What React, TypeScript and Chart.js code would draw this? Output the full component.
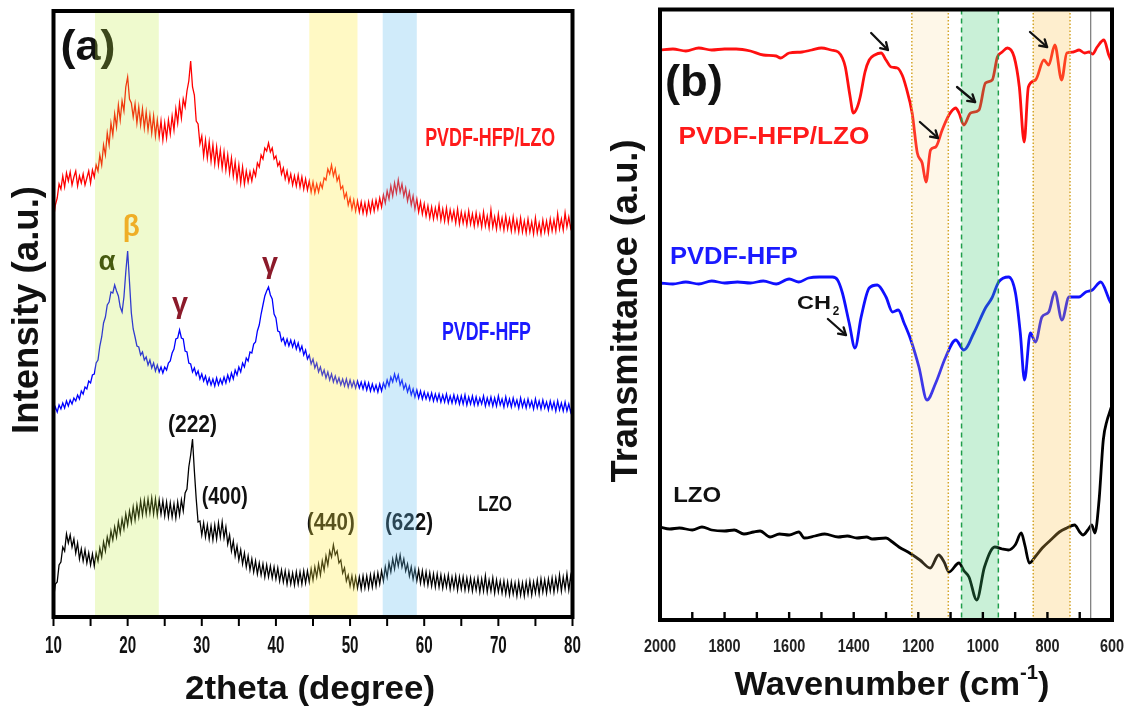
import React, { useEffect, useRef } from "react";
import { Chart, registerables } from "chart.js";
Chart.register(...registerables);

const FONT = "'Liberation Sans', Arial, sans-serif";

// ---------- (a) XRD data : 2theta from 10 to 80, step 0.25 ----------
const THETA_START = 10;
const THETA_STEP = 0.25;
const XRD_COMPOSITE = [
  398,412,419,433,428,441,430,444, 436,445,432,440,446,431,441,434,
  443,432,439,446,434,447,440,452, 446,462,452,472,462,484,472,494,
  482,503,490,512,497,516,506,530, 540,518,514,500,513,494,510,492,
  508,489,505,487,502,484,501,481, 497,480,496,477,494,479,497,483,
  501,487,508,494,514,499,518,510, 526,536,556,530,522,496,493,473,
  481,461,477,459,475,456,472,453, 470,452,467,449,465,447,462,444,
  459,441,455,437,452,434,450,433, 446,435,445,436,447,441,454,450,
  462,458,469,466,474,465,469,458, 461,451,455,443,449,438,446,435,
  443,432,441,431,442,430,440,428, 438,427,436,425,435,424,433,425,
  434,429,439,437,448,443,452,441, 448,436,441,428,431,419,424,412,
  419,408,417,406,416,405,415,404, 414,403,415,405,416,406,417,408,
  419,410,422,414,426,418,431,421, 434,424,437,425,433,421,429,416,
  425,412,421,408,418,405,415,403, 413,401,411,399,410,398,409,399,
  412,397,408,396,409,395,407,397, 406,394,408,393,405,394,404,392,
  406,393,403,391,404,392,402,390, 405,391,401,389,407,390,400,388,
  403,389,399,387,401,388,398,386, 400,386,397,385,399,385,396,384,
  398,385,395,383,399,384,394,383, 397,385,396,384,398,386,397,386,
  403,388,398,387,404,390,400,389, 396,
];
const XRD_PVDF = [
  204,210,205,212,208,214,209,216, 211,217,213,219,216,222,218,226,
  223,230,228,236,234,242,243,254, 257,271,280,294,300,312,315,325,
  324,332,326,321,310,305,320,345, 366,335,304,288,280,271,270,262,
  265,257,260,252,257,249,254,246, 252,245,250,244,250,247,254,256,
  264,268,278,279,287,279,278,266, 265,254,253,245,249,242,246,238,
  243,236,241,233,239,232,238,231, 239,232,238,233,240,234,242,236,
  244,238,247,242,250,245,254,250, 259,256,265,264,273,275,286,292,
  303,312,321,326,330,322,318,303, 299,286,285,276,279,272,278,271,
  277,270,276,268,274,266,271,262, 267,258,262,253,258,249,254,245,
  250,242,247,239,245,237,243,235, 241,234,239,232,238,231,238,230,
  237,230,236,229,236,229,235,228, 235,227,234,226,233,226,232,225,
  233,226,234,229,237,231,240,235, 243,236,242,232,237,228,233,225,
  231,222,228,220,227,219,226,218, 225,218,224,217,224,216,223,216,
  223,215,222,215,223,214,221,214, 222,214,221,213,221,213,222,212,
  220,213,221,212,220,212,219,213, 221,211,219,212,220,211,219,211,
  221,212,218,210,220,211,218,210, 219,211,217,209,219,210,217,209,
  218,210,216,208,218,209,216,208, 217,209,215,207,216,208,215,206,
  216,207,214,206,215,206,213,205, 212,
];
const XRD_LZO = [
  18,33,35,52,55,70,66,83, 74,82,70,78,64,74,58,68,
  56,67,54,64,52,63,51,64, 56,69,60,75,66,80,72,86,
  77,90,80,95,84,98,88,103, 92,106,95,110,97,112,100,116,
  102,117,103,118,104,119,103,118, 102,117,103,116,101,115,100,114,
  100,113,99,115,102,117,106,124, 128,150,162,178,146,118,95,96,
  82,94,80,92,78,91,77,92, 78,94,80,95,79,90,73,82,
  66,76,61,71,57,67,53,64, 50,61,47,58,45,56,43,54,
  42,53,40,52,40,51,39,50, 38,49,36,47,35,46,33,45,
  33,44,32,45,33,45,33,46, 34,46,35,48,37,50,40,53,
  42,56,47,61,52,66,60,72, 62,66,54,57,44,49,36,42,
  31,41,29,40,29,40,28,41, 29,41,29,42,30,43,31,44,
  33,46,36,50,40,54,45,58, 48,61,51,62,50,58,46,53,
  41,50,38,48,36,47,34,46, 33,45,32,44,31,43,30,43,
  30,42,29,41,30,42,28,40, 29,41,27,40,28,40,27,39,
  27,39,26,38,27,39,25,38, 26,41,25,37,26,39,24,37,
  25,36,24,36,23,35,22,35, 23,34,21,35,22,34,21,35,
  23,36,22,35,24,37,23,38, 25,37,24,38,26,39,25,39,
  27,42,26,40,28,43,27,41, 30,
];
const XRD_TICKS = [10, 20, 30, 40, 50, 60, 70, 80];
const XRD_MINOR_TICKS = [10, 15, 20, 25, 30, 35, 40, 45, 50, 55, 60, 65, 70, 75, 80];
const XRD_BANDS = [
  { from: 15.6, to: 24.2, color: "rgba(190,235,60,0.25)" },
  { from: 44.5, to: 51.0, color: "rgba(255,235,60,0.30)" },
  { from: 54.4, to: 59.0, color: "rgba(100,190,240,0.30)" },
];
const XRD_LABELS = [
  { text: "(a)", at: [14.65, 569], size: 42, width: 55, color: "#111" },
  { text: "PVDF-HFP/LZO", at: [68.9, 478], size: 25, width: 130, color: "#ff1a1a" },
  { text: "PVDF-HFP", at: [68.4, 284], size: 25, width: 89, color: "#1a1aff" },
  { text: "LZO", at: [69.55, 112], size: 22, width: 34, color: "#111" },
  { text: "(222)", at: [28.75, 192], size: 24, width: 49, color: "#111" },
  { text: "(400)", at: [33.1, 120], size: 24, width: 46, color: "#111" },
  { text: "(440)", at: [47.4, 94], size: 24, width: 48, color: "#111" },
  { text: "(622)", at: [57.95, 94], size: 24, width: 48, color: "#111" },
  { text: "α", at: [17.2, 355], size: 28, width: 17, color: "#1e2a00" },
  { text: "β", at: [20.5, 389], size: 30, width: 17, color: "#ff9a20" },
  { text: "γ", at: [27.05, 312], size: 30, width: 16, color: "#8b1a2a" },
  { text: "γ", at: [39.2, 352], size: 30, width: 16, color: "#8b1a2a" },
];

// ---------- (b) FTIR data ----------
const FTIR_WN_COMPOSITE = [2000,1960,1920,1880,1840,1800,1764,1720,1680,1640,1627,1600,1560,1530,1500,1470,1448,1435,1426,1412,1401,1390,1380,1365,1352,1335,1315,1300,1284,1265,1250,1238,1219,1203,1188,1176,1162,1146,1126,1105,1084,1074,1059,1038,1012,992,971,955,940,924,903,887,872,859,837,811,796,777,756,740,720,702,685,671,660,646,625,610,600];
const FTIR_COMPOSITE = [570,571,569,572,570,571,571,569,565,564,562,567,568,570,572,570,568,562,553,525,507,512,523,548,560,565,567,560,553,552,545,533,507,467,457,438,470,473,490,505,512,507,495,507,510,537,540,563,568,572,563,533,478,533,540,560,555,575,540,567,568,570,567,568,566,573,580,565,558];
const FTIR_WN_PVDF = [2000,1960,1920,1880,1840,1800,1760,1720,1680,1640,1600,1570,1540,1506,1466,1450,1435,1414,1396,1377,1352,1327,1300,1280,1262,1244,1223,1198,1173,1146,1115,1084,1059,1028,992,972,951,920,899,884,871,853,837,817,796,777,755,733,702,681,661,635,608,600];
const FTIR_PVDF = [337,336,338,336,339,337,338,337,339,336,341,338,342,343,343,340,327,297,272,303,332,335,323,308,310,297,280,253,220,237,263,280,270,287,312,322,338,343,327,287,240,287,278,303,308,328,300,323,323,328,330,338,320,315];
const FTIR_WN_LZO = [2000,1970,1940,1900,1870,1840,1800,1770,1740,1710,1690,1659,1630,1600,1570,1553,1520,1490,1448,1420,1390,1360,1343,1300,1280,1260,1227,1195,1163,1137,1120,1105,1074,1058,1043,1019,995,963,940,921,900,881,870,856,836,816,790,763,740,716,700,690,675,663,653,640,627,615,608,600];
const FTIR_LZO = [93,91,92,90,93,90,89,90,86,88,89,83,86,85,88,82,84,86,83,84,82,83,81,82,78,73,67,60,52,65,58,48,57,49,43,20,53,73,71,70,75,87,75,57,64,72,80,88,92,95,88,85,90,95,87,120,180,200,207,215];
const FTIR_TICKS = [2000, 1800, 1600, 1400, 1200, 1000, 800, 600];
const FTIR_MINOR_TICKS = [2000,1900,1800,1700,1600,1500,1400,1300,1200,1100,1000,900,800,700,600];
const FTIR_BANDS = [
  { from: 1220, to: 1107, color: "rgba(250,215,140,0.20)", border: "#d4a52a", dash: [1.5, 2] },
  { from: 1066, to: 952, color: "rgba(60,200,110,0.28)", border: "#1e9e4a", dash: [5, 4] },
  { from: 844, to: 730, color: "rgba(250,195,80,0.28)", border: "#d4a52a", dash: [1.5, 2] },
];
const FTIR_REF_LINE = 666;
const FTIR_LABELS = [
  { text: "(b)", at: [1894.7, 536], size: 44, width: 58, color: "#111" },
  { text: "PVDF-HFP/LZO", at: [1647, 483], size: 24, width: 191, color: "#ff1a1a" },
  { text: "PVDF-HFP", at: [1771, 363], size: 24, width: 128, color: "#1a1aff" },
  { text: "LZO", at: [1885, 124], size: 22, width: 48, color: "#111" },
];
const FTIR_ARROWS = [
  [1346, 587, 1294, 570],
  [1195, 498, 1139, 482],
  [1080, 533, 1024, 518],
  [854, 588, 801, 573],
  [1480, 301, 1424, 285],
];

function drawText(ctx: CanvasRenderingContext2D, text: string, cx: number, cy: number, size: number, color: string, opts: { sx?: number; width?: number; rotate?: number } = {}) {
  ctx.save();
  ctx.font = `bold ${size}px ${FONT}`;
  const w = ctx.measureText(text).width;
  const sx = opts.width ? opts.width / w : opts.sx ?? 1;
  ctx.translate(cx, cy);
  if (opts.rotate) ctx.rotate(opts.rotate);
  ctx.scale(sx, 1);
  ctx.fillStyle = color;
  ctx.textAlign = "center";
  ctx.textBaseline = "middle";
  ctx.fillText(text, 0, 0);
  ctx.restore();
}

function drawArrow(ctx: CanvasRenderingContext2D, x0: number, y0: number, x1: number, y1: number) {
  ctx.save();
  ctx.strokeStyle = "#111";
  ctx.lineWidth = 2.3;
  ctx.lineCap = "round";
  ctx.lineJoin = "round";
  ctx.beginPath();
  ctx.moveTo(x0, y0);
  ctx.lineTo(x1, y1);
  ctx.stroke();
  const ang = Math.atan2(y1 - y0, x1 - x0);
  const L = 8;
  ctx.beginPath();
  ctx.moveTo(x1 - L * Math.cos(ang - 0.55), y1 - L * Math.sin(ang - 0.55));
  ctx.lineTo(x1, y1);
  ctx.lineTo(x1 - L * Math.cos(ang + 0.55), y1 - L * Math.sin(ang + 0.55));
  ctx.stroke();
  ctx.restore();
}

const xrdDecor = {
  id: "xrdDecor",
  afterDatasetsDraw(chart: any) {
    const { ctx, chartArea: ca } = chart;
    const x = chart.scales.x;
    const y = chart.scales.y;
    XRD_LABELS.forEach((l) => drawText(ctx, l.text, x.getPixelForValue(l.at[0]), y.getPixelForValue(l.at[1]), l.size, l.color, { width: l.width }));
    ctx.save();
    ctx.beginPath();
    ctx.rect(ca.left, ca.top, ca.right - ca.left, ca.bottom - ca.top);
    ctx.clip();
    XRD_BANDS.forEach((b) => {
      const x0 = x.getPixelForValue(b.from);
      const x1 = x.getPixelForValue(b.to);
      ctx.fillStyle = b.color;
      ctx.fillRect(x0, ca.top, x1 - x0, ca.bottom - ca.top);
    });
    ctx.restore();
    ctx.save();
    ctx.strokeStyle = "#000";
    ctx.lineWidth = 4;
    ctx.strokeRect(ca.left, ca.top, ca.right - ca.left, ca.bottom - ca.top);
    ctx.lineWidth = 2;
    XRD_MINOR_TICKS.forEach((t) => {
      const px = x.getPixelForValue(t);
      ctx.beginPath();
      ctx.moveTo(px, ca.bottom + 2);
      ctx.lineTo(px, ca.bottom + 9);
      ctx.stroke();
    });
    ctx.restore();
    XRD_TICKS.forEach((t) => drawText(ctx, String(t), x.getPixelForValue(t), 647, 23, "#111", { sx: 0.66 }));
    drawText(ctx, "2theta (degree)", 310, 690, 34, "#111", { width: 250 });
    drawText(ctx, "Intensity (a.u.)", 28, 310, 36, "#111", { width: 248, rotate: -Math.PI / 2 });
  },
};

const ftirDecor = {
  id: "ftirDecor",
  afterDatasetsDraw(chart: any) {
    const { ctx, chartArea: ca } = chart;
    const x = chart.scales.x;
    const y = chart.scales.y;
    ctx.save();
    ctx.beginPath();
    ctx.rect(ca.left, ca.top, ca.right - ca.left, ca.bottom - ca.top);
    ctx.clip();
    FTIR_BANDS.forEach((b) => {
      const x0 = x.getPixelForValue(b.from);
      const x1 = x.getPixelForValue(b.to);
      ctx.fillStyle = b.color;
      ctx.fillRect(x0, ca.top, x1 - x0, ca.bottom - ca.top);
      ctx.strokeStyle = b.border;
      ctx.lineWidth = 1.5;
      ctx.setLineDash(b.dash);
      [x0, x1].forEach((px) => {
        ctx.beginPath();
        ctx.moveTo(px, ca.top);
        ctx.lineTo(px, ca.bottom);
        ctx.stroke();
      });
    });
    ctx.setLineDash([]);
    ctx.strokeStyle = "#777";
    ctx.lineWidth = 1.2;
    const gx = x.getPixelForValue(FTIR_REF_LINE);
    ctx.beginPath();
    ctx.moveTo(gx, ca.top);
    ctx.lineTo(gx, ca.bottom);
    ctx.stroke();
    ctx.restore();

    FTIR_LABELS.forEach((l) => drawText(ctx, l.text, x.getPixelForValue(l.at[0]), y.getPixelForValue(l.at[1]), l.size, l.color, { width: l.width }));
    // CH2 label
    const chx = x.getPixelForValue(1523);
    const chy = y.getPixelForValue(316);
    drawText(ctx, "CH", chx, chy, 19, "#111", { width: 34 });
    drawText(ctx, "2", chx + 22, chy + 7, 13, "#111", { sx: 0.9 });
    FTIR_ARROWS.forEach((a) => drawArrow(ctx, x.getPixelForValue(a[0]), y.getPixelForValue(a[1]), x.getPixelForValue(a[2]), y.getPixelForValue(a[3])));

    ctx.save();
    ctx.strokeStyle = "#000";
    ctx.lineWidth = 4;
    ctx.strokeRect(ca.left, ca.top, ca.right - ca.left, ca.bottom - ca.top);
    ctx.lineWidth = 2.4;
    FTIR_MINOR_TICKS.forEach((t) => {
      const px = x.getPixelForValue(t);
      ctx.beginPath();
      ctx.moveTo(px, ca.bottom - 2);
      ctx.lineTo(px, ca.bottom - 8);
      ctx.stroke();
    });
    ctx.restore();
    FTIR_TICKS.forEach((t) => drawText(ctx, String(t), x.getPixelForValue(t), 647, 18.5, "#222", { sx: 0.78 }));
    // x title with superscript
    ctx.save();
    ctx.font = `bold 34px ${FONT}`;
    const w1 = ctx.measureText("Wavenumber (cm").width;
    const w3 = ctx.measureText(")").width;
    ctx.font = `bold 20px ${FONT}`;
    const w2 = ctx.measureText("-1").width;
    const total = w1 + w2 + w3;
    const sx = 315 / total;
    ctx.translate(292 - 315 / 2, 686);
    ctx.scale(sx, 1);
    ctx.fillStyle = "#111";
    ctx.textBaseline = "middle";
    ctx.textAlign = "left";
    ctx.font = `bold 34px ${FONT}`;
    ctx.fillText("Wavenumber (cm", 0, 0);
    ctx.font = `bold 20px ${FONT}`;
    ctx.fillText("-1", w1, -13);
    ctx.font = `bold 34px ${FONT}`;
    ctx.fillText(")", w1 + w2, 0);
    ctx.restore();
    drawText(ctx, "Transmittance (a.u.)", 27, 311, 36, "#111", { width: 343, rotate: -Math.PI / 2 });
  },
};

function xrdConfig(): any {
  const theta = XRD_COMPOSITE.map((_, i) => THETA_START + i * THETA_STEP);
  const mk = (vals: number[], color: string) => ({
    data: vals.map((v, i) => ({ x: theta[i], y: v })),
    borderColor: color,
    borderWidth: 1.3,
    pointRadius: 0,
    tension: 0,
    fill: false,
  });
  return {
    type: "line",
    data: { datasets: [mk(XRD_COMPOSITE, "#ff0000"), mk(XRD_PVDF, "#0000ff"), mk(XRD_LZO, "#000000")] },
    options: {
      animation: false,
      responsive: false,
      maintainAspectRatio: false,
      events: [],
      layout: { padding: { left: 53.5, right: 27.5, top: 11, bottom: 91 } },
      scales: {
        x: { type: "linear", min: 10, max: 80, display: false },
        y: { type: "linear", min: 0, max: 606, display: false },
      },
      plugins: { legend: { display: false }, tooltip: { enabled: false } },
    },
    plugins: [xrdDecor],
  };
}

function ftirConfig(): any {
  const mk = (wn: number[], vals: number[], color: string) => ({
    data: vals.map((v, i) => ({ x: wn[i], y: v })),
    borderColor: color,
    borderWidth: 2.8,
    pointRadius: 0,
    cubicInterpolationMode: "monotone",
    fill: false,
  });
  return {
    type: "line",
    data: {
      datasets: [
        mk(FTIR_WN_COMPOSITE, FTIR_COMPOSITE, "#ff1010"),
        mk(FTIR_WN_PVDF, FTIR_PVDF, "#1010ff"),
        mk(FTIR_WN_LZO, FTIR_LZO, "#000000"),
      ],
    },
    options: {
      animation: false,
      responsive: false,
      maintainAspectRatio: false,
      events: [],
      layout: { padding: { left: 60, right: 23, top: 9.5, bottom: 88 } },
      scales: {
        x: { type: "linear", min: 600, max: 2000, reverse: true, display: false },
        y: { type: "linear", min: 0, max: 610.5, display: false },
      },
      plugins: { legend: { display: false }, tooltip: { enabled: false } },
    },
    plugins: [ftirDecor],
  };
}

export default function App() {
  const aRef = useRef<HTMLCanvasElement>(null);
  const bRef = useRef<HTMLCanvasElement>(null);
  useEffect(() => {
    const a = new Chart(aRef.current as HTMLCanvasElement, xrdConfig());
    const b = new Chart(bRef.current as HTMLCanvasElement, ftirConfig());
    return () => {
      a.destroy();
      b.destroy();
    };
  }, []);
  return (
    <div style={{ position: "absolute", left: 0, top: 0, width: 1135, height: 708, background: "#fff", overflow: "hidden" }}>
      <canvas ref={aRef} width={600} height={708} style={{ position: "absolute", left: 0, top: 0, width: 600, height: 708 }} />
      <canvas ref={bRef} width={535} height={708} style={{ position: "absolute", left: 600, top: 0, width: 535, height: 708 }} />
    </div>
  );
}
